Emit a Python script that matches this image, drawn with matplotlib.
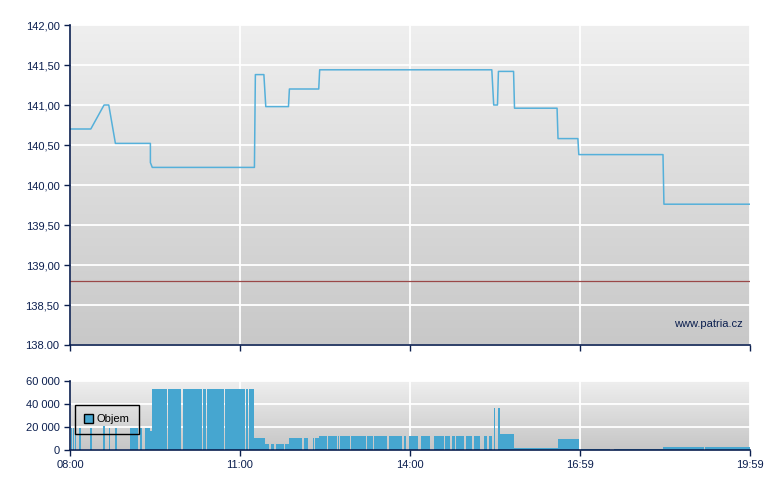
import matplotlib
matplotlib.use("Agg")
import matplotlib.pyplot as plt
import matplotlib.patches as mpatches
from matplotlib.colors import LinearSegmentedColormap
import numpy as np

plt.rcParams["font.family"] = ["Liberation Sans", "DejaVu Sans"]

# intraday price (step-ish line)
price_times = ["08:00", "08:22", "08:36", "08:41", "08:48", "09:25", "09:25", "09:27",
               "11:15", "11:16", "11:25", "11:27", "11:51", "11:52", "12:23", "12:24",
               "15:26", "15:28", "15:32", "15:33", "15:49", "15:50", "16:35", "16:36",
               "16:57", "16:58", "18:27", "18:28", "19:59"]
price_values = [140.70, 140.70, 141.00, 141.00, 140.52, 140.52, 140.28, 140.22,
                140.22, 141.38, 141.38, 140.98, 140.98, 141.20, 141.20, 141.44,
                141.44, 141.00, 141.00, 141.42, 141.42, 140.96, 140.96, 140.58,
                140.58, 140.38, 140.38, 139.76, 139.76]
prev_close = 138.80

# volume bars: start, end, volume
vol_start = ["08:01", "08:03", "08:05", "08:10", "08:21", "08:35", "08:41", "08:48",
             "09:03", "09:14", "09:19", "09:25",
             "09:27", "09:44", "09:59", "10:21", "10:25", "10:44", "11:06", "11:09",
             "11:15", "11:26", "11:32", "11:38", "11:47",
             "11:52", "12:07", "12:17", "12:19",
             "12:23", "12:33", "12:43", "12:45", "12:57", "13:14", "13:21", "13:37",
             "13:53", "13:58", "14:11", "14:25", "14:37", "14:44", "14:48", "14:59",
             "15:07", "15:18", "15:23",
             "15:28", "15:33", "15:34", "15:49", "16:36", "17:00", "17:35", "18:27", "19:11"]
vol_end = ["08:02", "08:04", "08:06", "08:11", "08:23", "08:36", "08:42", "08:49",
           "09:12", "09:16", "09:25", "09:27",
           "09:43", "09:57", "10:20", "10:24", "10:43", "11:05", "11:08", "11:15",
           "11:26", "11:30", "11:36", "11:46", "11:52",
           "12:05", "12:12", "12:18", "12:23",
           "12:32", "12:42", "12:44", "12:56", "13:13", "13:20", "13:35", "13:51",
           "13:55", "14:08", "14:21", "14:35", "14:42", "14:47", "14:57", "15:05",
           "15:14", "15:21", "15:26",
           "15:29", "15:34", "15:49", "16:36", "16:58", "17:31", "18:27", "19:10", "19:59"]
vol_values = [19000, 19000, 19000, 19000, 19000, 21000, 19000, 19000,
              19000, 19000, 19000, 16500,
              53000, 53000, 53000, 53000, 53000, 53000, 53000, 53000,
              10500, 5200, 5200, 5200, 5200,
              10700, 10700, 10700, 10700,
              12200, 12200, 12200, 12200, 12200, 12200, 12200, 12200,
              12200, 12200, 12200, 12200, 12200, 12200, 12200, 12200,
              12200, 12200, 12200,
              36500, 36500, 13900, 2000, 9600, 900, 700, 2600, 2600]

x_tick_labels = ["08:00", "11:00", "14:00", "16:59", "19:59"]
price_ticks = [138.0, 138.5, 139.0, 139.5, 140.0, 140.5, 141.0, 141.5, 142.0]
price_tick_labels = ["138.00", "138,50", "139,00", "139,50", "140,00",
                     "140,50", "141,00", "141,50", "142,00"]
vol_ticks = [0, 20000, 40000, 60000]
vol_tick_labels = ["0", "20 000", "40 000", "60 000"]

SESSION = 719
NAVY = "#0b1f4f"
BLUE = "#46a6d0"


def minutes(t):
    h, m = t.split(":")
    return (int(h) - 8) * 60 + int(m)


def style(ax, top_col, bot_col):
    cmap = LinearSegmentedColormap.from_list("bg", [bot_col, top_col])
    grad = np.linspace(0, 1, 256).reshape(-1, 1)
    ax.imshow(grad, cmap=cmap, origin="lower", aspect="auto",
              extent=[0, 1, 0, 1], transform=ax.transAxes, zorder=0)
    ax.set_xlim(0, SESSION)
    ax.set_xticks(np.linspace(0, SESSION, 5))
    for s in ("top", "right"):
        ax.spines[s].set_visible(False)
    for s in ("left", "bottom"):
        ax.spines[s].set_color(NAVY)
        ax.spines[s].set_linewidth(1.2)
        ax.spines[s].set_zorder(5)
    ax.tick_params(colors=NAVY, labelcolor=NAVY, length=4, width=1, labelsize=8)
    ax.grid(color="white", lw=1.3, zorder=1)
    ax.set_axisbelow(True)


fig = plt.figure(figsize=(7.8, 4.9), dpi=100)
ax = fig.add_axes([70 / 780, 145 / 490, 680 / 780, 320 / 490])
axv = fig.add_axes([70 / 780, 40 / 490, 680 / 780, 69 / 490])

style(ax, "#efefef", "#c8c8c8")
ax.set_ylim(138, 142)
ax.set_yticks(price_ticks)
ax.set_yticklabels(price_tick_labels)
ax.set_xticklabels([])
ax.axhline(prev_close, color="#9a4848", lw=0.9, zorder=2)
ax.plot([minutes(t) for t in price_times], price_values, color="#55b0da",
        lw=1.1, zorder=3)
ax.text(0.99, 0.065, "www.patria.cz", transform=ax.transAxes, ha="right",
        va="center", color=NAVY, fontsize=8, zorder=4)

style(axv, "#efefef", "#c6c6c6")
axv.set_ylim(0, 60000)
axv.set_yticks(vol_ticks)
axv.set_yticklabels(vol_tick_labels)
axv.set_xticklabels(x_tick_labels)
left = np.array([minutes(t) for t in vol_start])
right = np.array([minutes(t) for t in vol_end])
# one-minute bars are narrower than a pixel; widen them slightly so they show
axv.bar(left, vol_values, width=np.maximum(right - left, 1.5), align="edge",
        color=BLUE, lw=0, zorder=3)
handle = mpatches.Patch(facecolor=BLUE, edgecolor="black", lw=1, label="Objem")
leg = axv.legend(handles=[handle], loc="upper left", bbox_to_anchor=(0.007, 0.655),
                 frameon=True, fancybox=False, framealpha=1, edgecolor="black",
                 fontsize=8, handlelength=0.8, handleheight=0.8, handletextpad=0.35,
                 borderpad=0.85, borderaxespad=0)
leg.get_frame().set_facecolor("none")
leg.get_frame().set_linewidth(1)
leg.set_zorder(6)

fig.savefig("out.png", dpi=100)
